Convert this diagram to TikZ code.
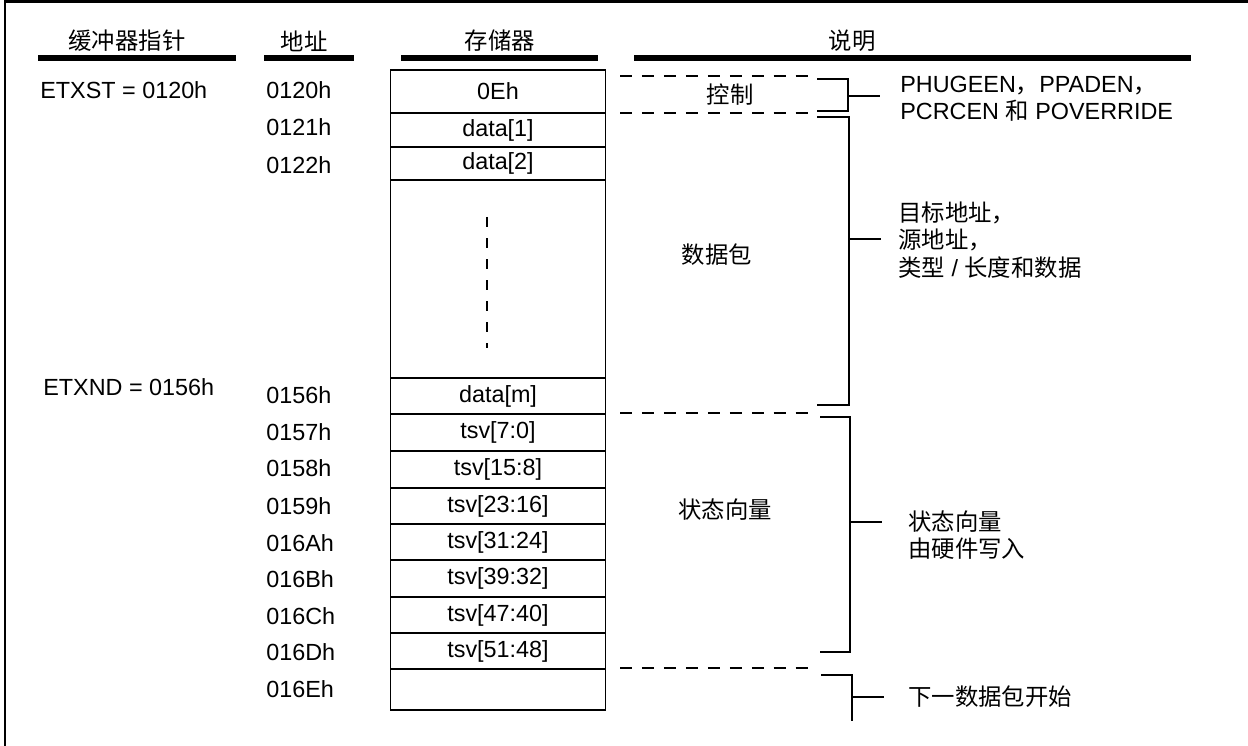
\documentclass[tikz,border=0pt]{standalone}
\usepackage{fontspec}
\setmainfont{Liberation Sans}
\newfontfamily\cjk{Noto Sans CJK SC}
\usetikzlibrary{calc}

\begin{document}
\begin{tikzpicture}[x=0.02cm,y=-0.02cm,
    font=\fontsize{13.3pt}{15.5pt}\selectfont,
    every node/.style={inner sep=0pt},
    cell/.style={draw,line width=1.1pt,minimum width=4.3cm,inner sep=0pt},
    bar/.style={line width=3.2pt},
    brk/.style={line width=1.1pt},
    sep/.style={line width=1.1pt,dash pattern=on 7pt off 5.5pt},
    vdots/.style={line width=1.1pt,dash pattern=on 5.5pt off 6.5pt},
    addr/.style={anchor=west},
    note/.style={anchor=west,align=left}]
\useasboundingbox (0,0) rectangle (1248,746);
\draw[line width=1.2pt] (5,746) -- (5,1.5) -- (1248,1.5);

% column heads
\node (hptr) at (127,41) {\cjk 缓冲器指针};
\node (hadr) at (304,41) {\cjk 地址};
\node (hmem) at (500,41) {\cjk 存储器};
\node (hdsc) at (852,41) {\cjk 说明};
\draw[bar] (38,58) -- (236,58) (264,58) -- (354,58)
           (401,58) -- (598,58) (634,58) -- (1191,58);

% pointers and addresses
\node[addr] (ptrst) at (40,90) {ETXST = 0120h};
\node[addr] (ptrnd) at (43,387) {ETXND = 0156h};
\foreach \y/\a [count=\i] in {90/0120h,127/0121h,165/0122h,395/0156h,432/0157h,
    468/0158h,506/0159h,543/016Ah,579/016Bh,616/016Ch,652/016Dh,689/016Eh}
  \node[addr] (a\i) at (266,\y) {\a};

% memory cells
\foreach \t/\b/\txt [count=\i] in {70/113/0Eh,113/147/data[1],147/180/data[2],
    180/378/{},378/414/data[m],414/451/tsv[7:0],451/488/tsv[15:8],
    488/524/tsv[23:16],524/560/tsv[31:24],560/597/tsv[39:32],
    597/633/tsv[47:40],633/669/tsv[51:48],669/710/{}}
  \node[cell,minimum height={(\b-\t)*0.02cm}] (m\i) at (498,{(\t+\b)/2}) {\txt};
\draw[vdots] (487,217) -- (487,348);

% groups
\foreach \y in {76,113,413,668}
  \draw[sep] (620,\y) -- (813,\y);
\node (gctl) at (730,95) {\cjk 控制};
\node (gpkt) at (717,255) {\cjk 数据包};
\node (gsts) at (725,510) {\cjk 状态向量};

% brackets
\foreach \xa/\ya/\xv/\ym/\yb [count=\i] in {817/79/848/96/111,817/117/849/239/405,820/417/850/522/652}{
  \coordinate (k\i) at (\xv,\ym);
  \draw[brk] (\xa,\ya) -| (k\i) |- (\xa,\yb);
  \draw[brk] (k\i) -- ++(32,0);
}
\coordinate (k4) at (852,697);
\draw[brk] (821,675) -| (k4) -- (852,721);
\draw[brk] (k4) -- ++(32,0);

% descriptions
\node[note] (dctl) at (900,98.5) {PHUGEEN{\cjk ，}PPADEN{\cjk ，}\\PCRCEN {\cjk 和} POVERRIDE};
\node[note] (dpkt) at (898,240) {\cjk 目标地址，\\\cjk 源地址，\\{\cjk 类型} / {\cjk 长度和数据}};
\node[note] (dsts) at (908,535) {\cjk 状态向量\\\cjk 由硬件写入};
\node[note] (dnxt) at (908,697) {\cjk 下一数据包开始};
\end{tikzpicture}
\end{document}
